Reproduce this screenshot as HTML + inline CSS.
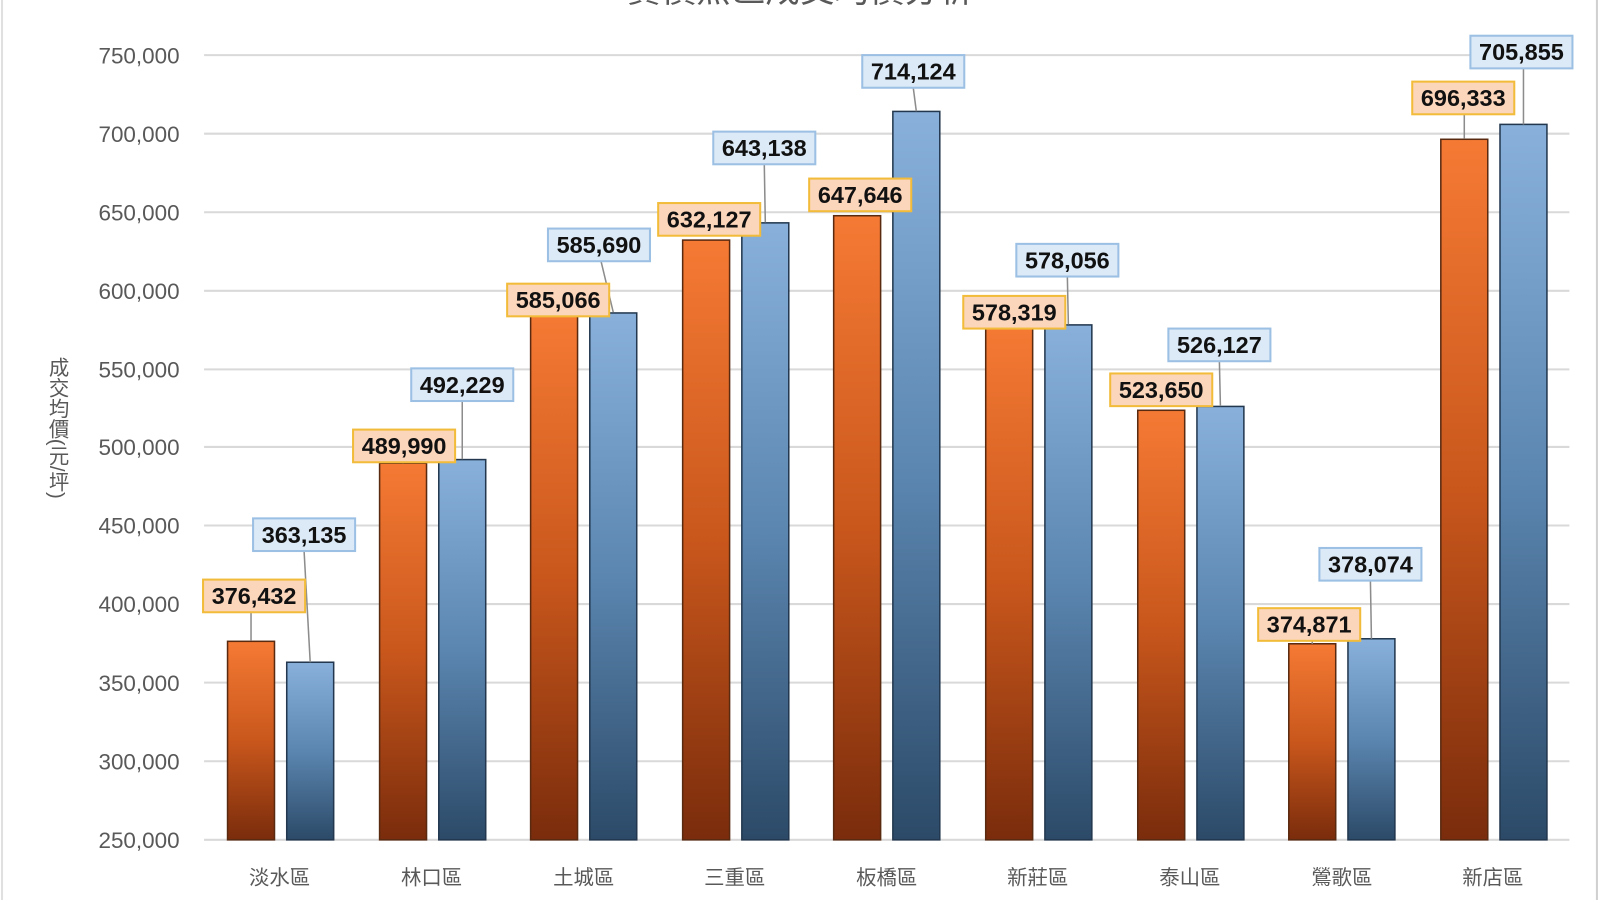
<!DOCTYPE html>
<html><head><meta charset="utf-8"><style>
html,body{margin:0;padding:0;background:#fff;}
svg{display:block;}
text{font-family:"Liberation Sans","Noto Sans CJK TC",sans-serif;}
.ax{font-size:22px;fill:#595959;}
.lb{font-size:23px;font-weight:bold;fill:#111;text-anchor:middle;}
.ct{font-size:20px;fill:#595959;text-anchor:middle;}
</style></head><body>
<svg width="1600" height="900" viewBox="0 0 1568 882" xmlns="http://www.w3.org/2000/svg">
<defs>
<linearGradient id="go" x1="0" y1="0" x2="0" y2="1"><stop offset="0" stop-color="#f57a34"/><stop offset="0.5" stop-color="#c9571c"/><stop offset="1" stop-color="#7a2c0c"/></linearGradient>
<linearGradient id="gb" x1="0" y1="0" x2="0" y2="1"><stop offset="0" stop-color="#88b0da"/><stop offset="0.5" stop-color="#5b86b0"/><stop offset="1" stop-color="#2c4a68"/></linearGradient>
</defs>
<rect width="1568" height="882" fill="#fff"/>
<line x1="1565" y1="0" x2="1565" y2="882" stroke="#d0d0d0" stroke-width="2"/>
<line x1="2" y1="0" x2="2" y2="882" stroke="#e0e0e0" stroke-width="2"/>
<text x="784" y="2" font-size="34" fill="#595959" text-anchor="middle">實價熱區成交均價分析</text>
<g stroke="#d9d9d9" stroke-width="2">
<line x1="200" x2="1538" y1="54" y2="54"/><line x1="200" x2="1538" y1="131" y2="131"/><line x1="200" x2="1538" y1="208" y2="208"/><line x1="200" x2="1538" y1="285" y2="285"/><line x1="200" x2="1538" y1="362" y2="362"/><line x1="200" x2="1538" y1="438" y2="438"/><line x1="200" x2="1538" y1="515" y2="515"/><line x1="200" x2="1538" y1="592" y2="592"/><line x1="200" x2="1538" y1="669" y2="669"/><line x1="200" x2="1538" y1="746" y2="746"/><line x1="200" x2="1538" y1="823" y2="823"/>
</g>
<g class="ax" text-anchor="end">
<text x="176" y="62">750,000</text><text x="176" y="139">700,000</text><text x="176" y="216">650,000</text><text x="176" y="293">600,000</text><text x="176" y="370">550,000</text><text x="176" y="446">500,000</text><text x="176" y="523">450,000</text><text x="176" y="600">400,000</text><text x="176" y="677">350,000</text><text x="176" y="754">300,000</text><text x="176" y="831">250,000</text>
</g>
<text x="55" y="350" font-size="20" fill="#595959" style="writing-mode:vertical-rl;text-orientation:mixed;">成交均價(元/坪)</text>
<g stroke-width="1.5">
<rect x="223" y="628.5" width="46" height="194.5" fill="url(#go)" stroke="#5a2a10"/>
<rect x="281" y="649" width="46" height="174" fill="url(#gb)" stroke="#23384f"/>
<rect x="372" y="453.9" width="46" height="369.1" fill="url(#go)" stroke="#5a2a10"/>
<rect x="430" y="450.4" width="46" height="372.6" fill="url(#gb)" stroke="#23384f"/>
<rect x="520" y="307.7" width="46" height="515.3" fill="url(#go)" stroke="#5a2a10"/>
<rect x="578" y="306.7" width="46" height="516.3" fill="url(#gb)" stroke="#23384f"/>
<rect x="669" y="235.3" width="46" height="587.7" fill="url(#go)" stroke="#5a2a10"/>
<rect x="727" y="218.4" width="46" height="604.6" fill="url(#gb)" stroke="#23384f"/>
<rect x="817" y="211.4" width="46" height="611.6" fill="url(#go)" stroke="#5a2a10"/>
<rect x="875" y="109.2" width="46" height="713.8" fill="url(#gb)" stroke="#23384f"/>
<rect x="966" y="318" width="46" height="505" fill="url(#go)" stroke="#5a2a10"/>
<rect x="1024" y="318.4" width="46" height="504.6" fill="url(#gb)" stroke="#23384f"/>
<rect x="1115" y="402.1" width="46" height="420.9" fill="url(#go)" stroke="#5a2a10"/>
<rect x="1173" y="398.3" width="46" height="424.7" fill="url(#gb)" stroke="#23384f"/>
<rect x="1263" y="630.9" width="46" height="192.1" fill="url(#go)" stroke="#5a2a10"/>
<rect x="1321" y="626" width="46" height="197" fill="url(#gb)" stroke="#23384f"/>
<rect x="1412" y="136.5" width="46" height="686.5" fill="url(#go)" stroke="#5a2a10"/>
<rect x="1470" y="121.9" width="46" height="701.1" fill="url(#gb)" stroke="#23384f"/>
</g>
<g stroke="#8c8c8c" stroke-width="1.5">
<line x1="246" y1="600" x2="246" y2="628"/><line x1="298" y1="540" x2="304" y2="649"/>
<line x1="395" y1="453" x2="395" y2="454"/><line x1="453" y1="393" x2="453" y2="450"/>
<line x1="589" y1="256" x2="601" y2="306"/><line x1="749" y1="161" x2="750" y2="218"/>
<line x1="895" y1="86" x2="898" y2="109"/><line x1="1046" y1="271" x2="1047" y2="318"/>
<line x1="1195" y1="354" x2="1196" y2="398"/><line x1="1286" y1="628" x2="1286" y2="631"/><line x1="1343" y1="569" x2="1344" y2="626"/>
<line x1="1435" y1="112" x2="1435" y2="136"/><line x1="1493" y1="67" x2="1493" y2="122"/>
</g>
<g stroke="#f2bc3a" stroke-width="2" fill="#fcd6bb">
<rect x="199" y="568" width="100" height="32"/><rect x="346" y="421" width="100" height="32"/><rect x="497" y="278" width="100" height="32"/><rect x="645" y="199" width="100" height="32"/><rect x="793" y="175" width="100" height="32"/><rect x="944" y="290" width="100" height="32"/><rect x="1088" y="366" width="100" height="32"/><rect x="1233" y="596" width="100" height="32"/><rect x="1384" y="80" width="100" height="32"/>
</g>
<g stroke="#9cc0e4" stroke-width="2" fill="#dce9f6">
<rect x="248" y="508" width="100" height="32"/><rect x="403" y="361" width="100" height="32"/><rect x="537" y="224" width="100" height="32"/><rect x="699" y="129" width="100" height="32"/><rect x="845" y="54" width="100" height="32"/><rect x="996" y="239" width="100" height="32"/><rect x="1145" y="322" width="100" height="32"/><rect x="1293" y="537" width="100" height="32"/><rect x="1441" y="35" width="100" height="32"/>
</g>
<g class="lb">
<text x="249" y="592">376,432</text><text x="396" y="445">489,990</text><text x="547" y="302">585,066</text><text x="695" y="223">632,127</text><text x="843" y="199">647,646</text><text x="994" y="314">578,319</text><text x="1138" y="390">523,650</text><text x="1283" y="620">374,871</text><text x="1434" y="104">696,333</text>
<text x="298" y="532">363,135</text><text x="453" y="385">492,229</text><text x="587" y="248">585,690</text><text x="749" y="153">643,138</text><text x="895" y="78">714,124</text><text x="1046" y="263">578,056</text><text x="1195" y="346">526,127</text><text x="1343" y="561">378,074</text><text x="1491" y="59">705,855</text>
</g>
<g class="ct">
<text x="274" y="867">淡水區</text><text x="423" y="867">林口區</text><text x="572" y="867">土城區</text><text x="720" y="867">三重區</text><text x="869" y="867">板橋區</text><text x="1017" y="867">新莊區</text><text x="1166" y="867">泰山區</text><text x="1315" y="867">鶯歌區</text><text x="1463" y="867">新店區</text>
</g>
</svg>
</body></html>
